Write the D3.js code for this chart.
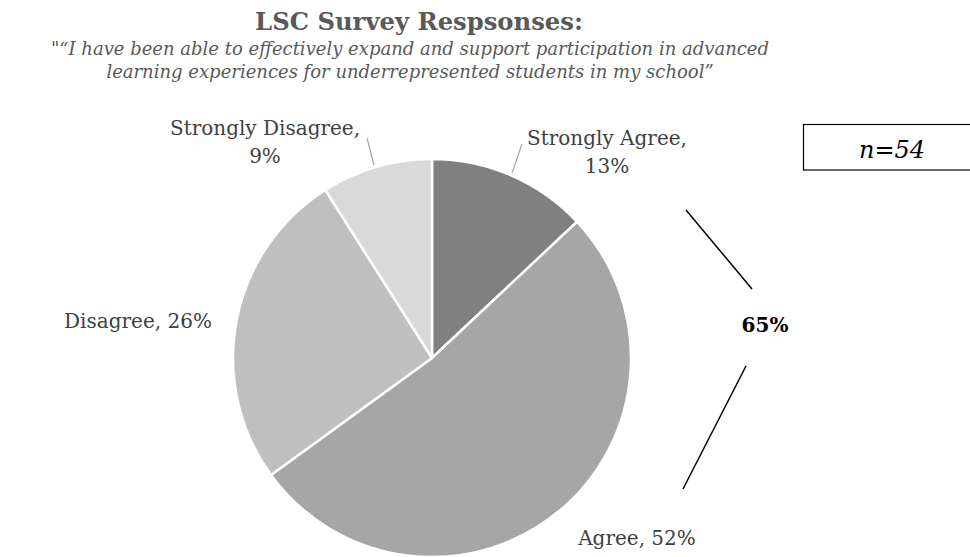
<!DOCTYPE html>
<html>
<head>
<meta charset="utf-8">
<script src="https://cdn.jsdelivr.net/npm/d3@7"></script>
<style>
  html, body { margin: 0; padding: 0; background: #fff; }
  svg { display: block; }
  text { font-family: "DejaVu Serif", Georgia, serif; }
</style>
</head>
<body>
<svg id="chart" width="970" height="557"></svg>
<script>
// Survey response shares (percent), clockwise from 12 o'clock
const categories = ["Strongly Agree", "Agree", "Disagree", "Strongly Disagree"];
const shares = [13, 52, 26, 9];
const sliceColors = ["#808080", "#a6a6a6", "#bfbfbf", "#d9d9d9"];
const titleText = "LSC Survey Respsonses:";
const subtitleLines = [
  "\"\u201CI have been able to effectively expand and support participation in advanced",
  "learning experiences for underrepresented students in my school\u201D"
];
const sampleSize = "n=54";
const agreeTotal = shares[0] + shares[1];

const svg = d3.select("#chart");
const cx = 432, cy = 358, r = 199;

// Scale a text element's font size so it spans the given width
function fitWidth(sel, width) {
  const node = sel.node();
  const fs = parseFloat(sel.attr("font-size"));
  const w = node.getComputedTextLength();
  sel.attr("font-size", (fs * width / w).toFixed(2));
  return sel;
}

// Title and quoted survey statement
const title = svg.append("text")
  .attr("x", 419).attr("y", 30)
  .attr("text-anchor", "middle")
  .attr("font-size", 22).attr("font-weight", "bold")
  .attr("fill", "#595959")
  .text(titleText);
fitWidth(title, 328);

svg.selectAll("text.sub")
  .data(subtitleLines)
  .join("text")
  .attr("class", "sub")
  .attr("x", 410).attr("y", (d, i) => 55 + i * 23)
  .attr("text-anchor", "middle")
  .attr("font-size", 18).attr("font-style", "italic")
  .attr("fill", "#595959")
  .text(d => d);

// Pie
const pie = d3.pie().sort(null).value(d => d.value);
const arcs = pie(categories.map((c, i) => ({ name: c, value: shares[i] })));
const arc = d3.arc().innerRadius(0).outerRadius(r);
const color = d3.scaleOrdinal().domain(categories).range(sliceColors);

const g = svg.append("g").attr("transform", `translate(${cx},${cy})`);
g.selectAll("path")
  .data(arcs)
  .join("path")
  .attr("d", arc)
  .attr("fill", d => color(d.data.name))
  .attr("stroke", "#fff")
  .attr("stroke-width", 2.5)
  .attr("stroke-linejoin", "round");

// Data labels
const labelColor = "#404040";
const fmt = d => d.data.value + "%";
const labelSpecs = [
  { lines: d => [d.data.name + ",", fmt(d)], x: 607, y: 145, leader: [[512, 173], [522, 144]] },
  { lines: d => [d.data.name + ", " + fmt(d)], x: 637, y: 545, leader: null },
  { lines: d => [d.data.name + ", " + fmt(d)], x: 138, y: 328, leader: null },
  { lines: d => [d.data.name + ",", fmt(d)], x: 265, y: 135, leader: [[374, 165], [367, 138]] }
];

arcs.forEach((d, i) => {
  const spec = labelSpecs[i];
  if (spec.leader) {
    svg.append("line")
      .attr("x1", spec.leader[0][0]).attr("y1", spec.leader[0][1])
      .attr("x2", spec.leader[1][0]).attr("y2", spec.leader[1][1])
      .attr("stroke", "#a6a6a6").attr("stroke-width", 1.2);
  }
  const t = svg.append("text")
    .attr("text-anchor", "middle")
    .attr("font-size", 20)
    .attr("fill", labelColor);
  spec.lines(d).forEach((ln, k) => {
    t.append("tspan").attr("x", spec.x).attr("y", spec.y + k * 28).text(ln);
  });
});

// Bracket for combined agreement
svg.append("line").attr("x1", 686).attr("y1", 210).attr("x2", 752).attr("y2", 289)
  .attr("stroke", "#000").attr("stroke-width", 1.5);
svg.append("line").attr("x1", 746).attr("y1", 366).attr("x2", 683).attr("y2", 489)
  .attr("stroke", "#000").attr("stroke-width", 1.5);
svg.append("text")
  .attr("x", 765).attr("y", 332)
  .attr("text-anchor", "middle")
  .attr("font-size", 20).attr("font-weight", "bold")
  .attr("fill", "#000")
  .text(agreeTotal + "%");

// Sample size box
svg.append("rect")
  .attr("x", 803.5).attr("y", 124.5).attr("width", 170).attr("height", 45.5)
  .attr("fill", "#fff").attr("stroke", "#000").attr("stroke-width", 1.2);
svg.append("text")
  .attr("x", 892).attr("y", 158)
  .attr("text-anchor", "middle")
  .attr("font-size", 24).attr("font-style", "italic")
  .attr("fill", "#000")
  .text(sampleSize);
</script>
</body>
</html>
